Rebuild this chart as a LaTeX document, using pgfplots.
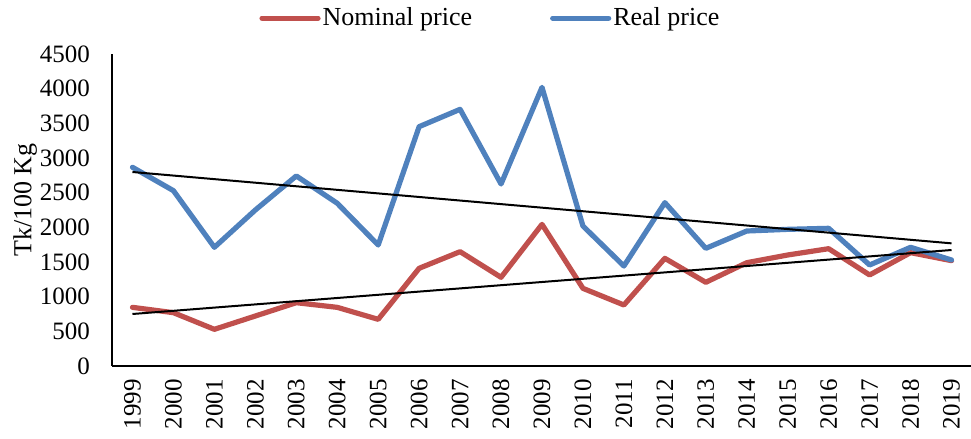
\documentclass[border=0pt]{standalone}
\usepackage{pgfplots}
\pgfplotsset{compat=1.18}
\usepackage{fontspec}
\setmainfont{Liberation Serif}
\definecolor{nomred}{RGB}{192,80,77}
\definecolor{realblue}{RGB}{79,129,189}
\pgfplotstableread{
x nominal real
0 846 2866
1 769 2529
2 529 1712
3 721 2250
4 913 2741
5 846 2347
6 673 1745
7 1409 3452
8 1649 3702
9 1279 2625
10 2043 4019
11 1120 2019
12 880 1442
13 1553 2356
14 1207 1697
15 1490 1947
16 1601 1971
17 1692 1986
18 1313 1457
19 1635 1712
20 1519 1529
}\datatable
\begin{document}
\begin{tikzpicture}
\useasboundingbox (-56pt,-36.5pt) rectangle (429.5pt,183pt);
\begin{axis}[
  scale only axis,
  width=430pt, height=156pt,
  xmin=-0.5, xmax=20.5,
  ymin=0, ymax=4500,
  ytick={0,500,...,4500},
  xtick={0,...,20},
  xticklabels={1999,2000,2001,2002,2003,2004,2005,2006,2007,2008,2009,2010,2011,2012,2013,2014,2015,2016,2017,2018,2019},
  axis x line=bottom, axis y line=left,
  axis line style={-, line width=0.8pt},
  major tick length=0pt,
  /pgf/number format/assume math mode=true,
  /pgf/number format/1000 sep={},
  scaled y ticks=false,
  yticklabel style={font=\fontsize{12.5}{14}\selectfont, xshift=-7.5pt},
  xticklabel style={font=\fontsize{12.5}{14}\selectfont, rotate=90, anchor=east, yshift=0pt, xshift=-3pt},
  ylabel={Tk/100 Kg},
  ylabel style={font=\fontsize{13}{15}\selectfont, at={(axis description cs:-0.101,0.532)}, anchor=center},
  legend columns=2,
  legend style={draw=none, fill=none, at={(rel axis cs:0.44,1.115)}, anchor=center,
    font=\fontsize{13}{15}\selectfont, nodes={inner xsep=1pt},
    /tikz/every even column/.append style={column sep=38pt}},
  legend image code/.code={\draw[#1] (0pt,0pt) -- (28pt,0pt);},
]
\addplot[color=nomred, line width=2.6pt, line join=round, line cap=round] table[x=x,y=nominal]{\datatable};
\addlegendentry{Nominal price}
\addplot[color=realblue, line width=2.6pt, line join=round, line cap=round] table[x=x,y=real]{\datatable};
\addlegendentry{Real price}
\addplot[black, line width=1pt, forget plot] coordinates {(0,2798) (20,1769)};
\addplot[black, line width=1pt, forget plot] coordinates {(0,750) (20,1673)};
\end{axis}
\end{tikzpicture}
\end{document}
